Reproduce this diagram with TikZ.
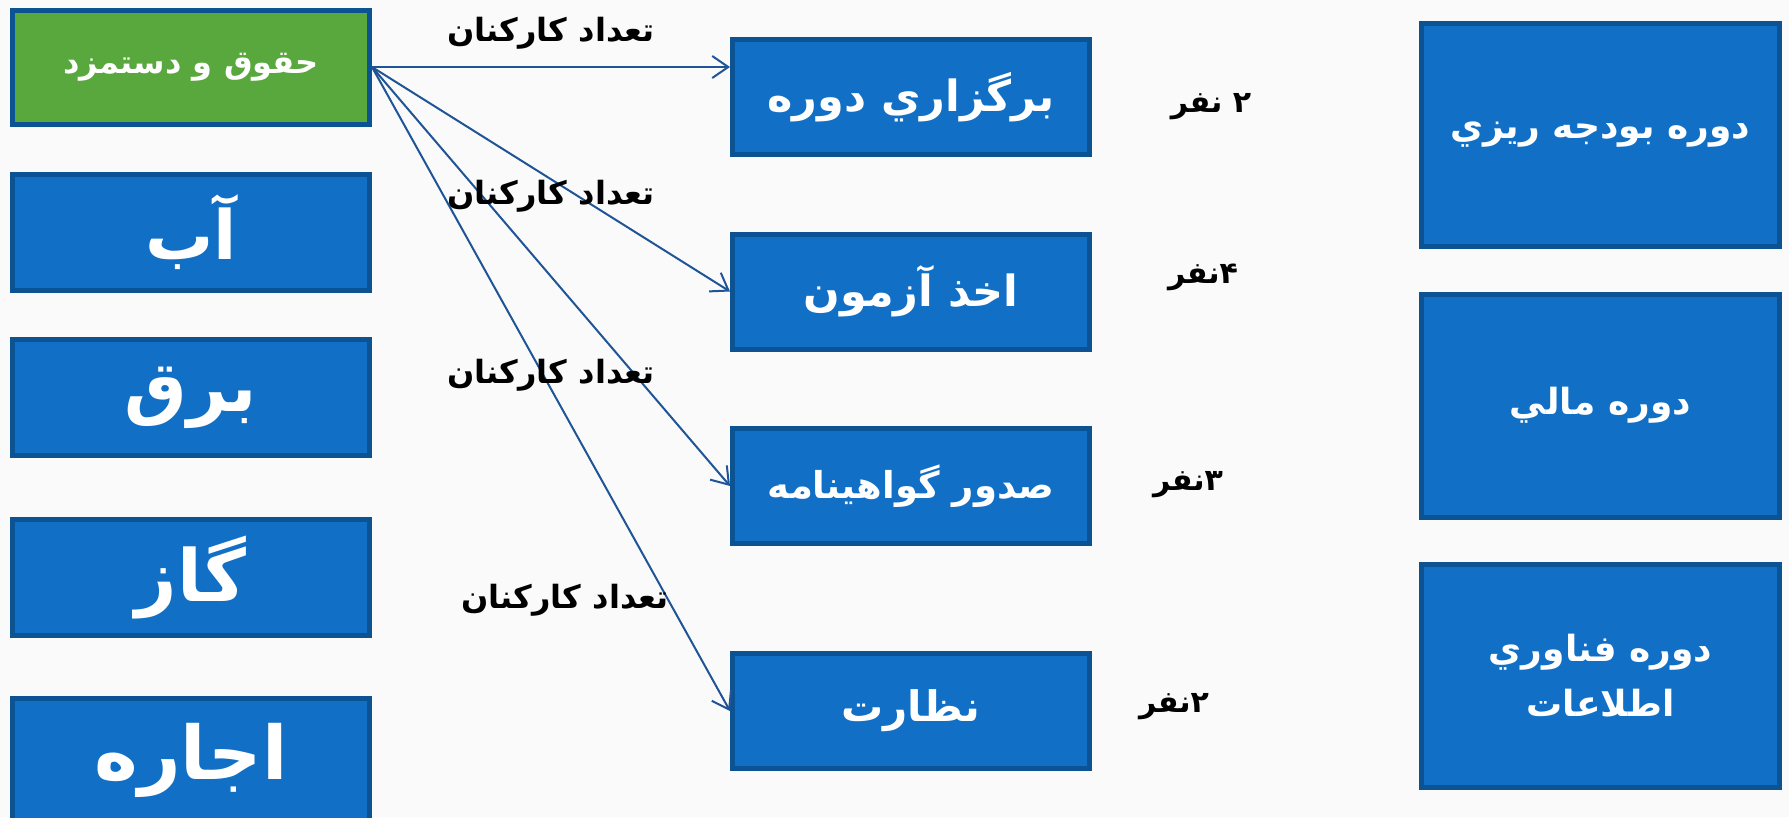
\documentclass[tikz,border=0pt]{standalone}
\usepackage{fontspec}
\newfontfamily\ar[Script=Arabic]{DejaVu Sans}
\TeXXeTstate=1
\usetikzlibrary{arrows.meta}
\definecolor{boxfill}{HTML}{1170C6}
\definecolor{boxline}{HTML}{0B5393}
\definecolor{greenfill}{HTML}{59A83D}
\definecolor{arrowc}{HTML}{1F5597}
\definecolor{bgc}{HTML}{FAFAFA}
\tikzset{
  box/.style={draw=boxline, line width=5pt, fill=boxfill, text=white, font=\ar\bfseries,
    inner sep=0pt, align=center},
  lbox/.style={box, minimum width=357pt, minimum height=116pt},
  mbox/.style={box, minimum width=357pt, minimum height=115pt, font=\ar\bfseries\fontsize{43}{48}\selectfont},
  rbox/.style={box, minimum width=358pt, minimum height=223pt, font=\ar\bfseries\fontsize{36}{55}\selectfont},
  lbl/.style={font=\ar\bfseries\fontsize{32}{36}\selectfont, text=black, inner sep=0pt},
  nlbl/.style={lbl, font=\ar\bfseries\fontsize{30}{34}\selectfont},
  conn/.style={draw=arrowc, line width=2pt, -{Straight Barb[length=16pt,width=22pt,line width=2pt]}},
}
\begin{document}
\begin{tikzpicture}[x=1pt,y=-1pt]
\useasboundingbox (0,0) rectangle (1789,817);
\clip (0,0) rectangle (1789,817);
\fill[bgc] (0,0) rectangle (1789,817);
% left column
\node[lbox, fill=greenfill, minimum height=114pt, font=\ar\bfseries\fontsize{32}{36}\selectfont] (green) at (191,67) {\beginR حقوق و دستمزد\endR};
\node[lbox, font=\ar\bfseries\fontsize{68}{80}\selectfont] (ab) at (191,232) {\beginR آب\endR};
\node[lbox, font=\ar\bfseries\fontsize{70}{80}\selectfont] (bargh) at (191,397.5) {\beginR برق\endR};
\node[lbox, font=\ar\bfseries\fontsize{72}{80}\selectfont] (gaz) at (191,577.5) {\beginR گاز\endR};
\node[lbox, minimum height=123pt, font=\ar\bfseries\fontsize{74}{80}\selectfont] (ejare) at (191,760) {\raisebox{-4pt}{\beginR اجاره\endR}};
% middle column
\node[mbox] (m1) at (911,97) {\beginR برگزاري دوره\endR};
\node[mbox] (m2) at (911,291.5) {\beginR اخذ آزمون\endR};
\node[mbox, font=\ar\bfseries\fontsize{37}{44}\selectfont] (m3) at (911,486) {\beginR صدور گواهینامه\endR};
\node[mbox, font=\ar\bfseries\fontsize{42}{48}\selectfont] (m4) at (911,711) {\beginR نظارت\endR};
% right column
\node[rbox] (r1) at (1600.5,135) {\beginR دوره بودجه ريزي\endR};
\node[rbox] (r2) at (1600.5,405.5) {\beginR دوره مالي\endR};
\node[rbox] (r3) at (1600.5,675.5) {\beginR دوره فناوري\endR\\\beginR اطلاعات\endR};
% connectors
\coordinate (e1) at (m1.west |- green.east);
\draw[conn] (green.east) -- (e1);
\draw[conn] (green.east) -- (m2.west);
\draw[conn] (green.east) -- (m3.west);
\draw[conn] (green.east) -- (m4.west);
% labels
\node[lbl] (t1) at (551,33) {\beginR تعداد کارکنان\endR};
\node[lbl] (t2) at (551,196) {\beginR تعداد کارکنان\endR};
\node[lbl] (t3) at (551,375) {\beginR تعداد کارکنان\endR};
\node[lbl] (t4) at (565,600) {\beginR تعداد کارکنان\endR};
\node[nlbl] (n1) at (1211,107) {\beginR ۲ نفر\endR};
\node[nlbl] (n2) at (1203,277) {\beginR ۴نفر\endR};
\node[nlbl] (n3) at (1188,485) {\beginR ۳نفر\endR};
\node[nlbl] (n4) at (1174,707) {\beginR ۲نفر\endR};
\end{tikzpicture}
\end{document}
